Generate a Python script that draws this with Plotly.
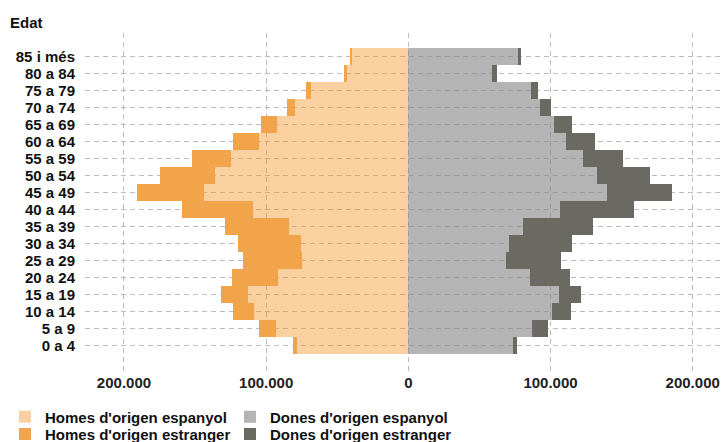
import plotly.graph_objects as go

ages = ["0 a 4", "5 a 9", "10 a 14", "15 a 19", "20 a 24", "25 a 29", "30 a 34",
        "35 a 39", "40 a 44", "45 a 49", "50 a 54", "55 a 59", "60 a 64",
        "65 a 69", "70 a 74", "75 a 79", "80 a 84", "85 i més"]

homes_espanyol = [78000, 93200, 108500, 112900, 91600, 74500, 75500, 83900, 109400,
                  143700, 135900, 124900, 105000, 92600, 79700, 68400, 43800, 39800]
homes_estranger = [3300, 11800, 14600, 18800, 32400, 41700, 44000, 45000, 49700,
                   47100, 38500, 27200, 18100, 11000, 5800, 3500, 1400, 1200]
dones_espanyol = [73400, 87200, 100800, 106000, 85600, 68500, 71000, 80400, 106900,
                  139500, 132700, 123100, 111100, 102500, 92400, 86300, 59100, 76900]
dones_estranger = [3300, 10800, 13600, 15200, 27900, 39100, 44300, 49300, 52000,
                   45900, 37300, 28100, 20200, 12800, 8200, 4900, 3100, 2400]

tick_vals = [-200000, -100000, 0, 100000, 200000]
tick_text = ["200.000", "100.000", "0", "100.000", "200.000"]

FONT = "Liberation Sans, Arial, sans-serif"

fig = go.Figure()
fig.add_trace(go.Bar(y=ages, x=[-v for v in homes_espanyol], orientation="h",
                     name="Homes d'origen espanyol", showlegend=True,
                     marker=dict(color="rgba(243,150,45,0.45)", line=dict(width=0)),
                     legend="legend"))
fig.add_trace(go.Bar(y=ages, x=[-v for v in homes_estranger], orientation="h",
                     name="Homes d'origen estranger", showlegend=True,
                     marker=dict(color="#F2A44A", line=dict(width=0)),
                     legend="legend2"))
fig.add_trace(go.Bar(y=ages, x=dones_espanyol, orientation="h",
                     name="Dones d'origen espanyol", showlegend=True,
                     marker=dict(color="rgba(140,140,140,0.65)", line=dict(width=0)),
                     legend="legend3"))
fig.add_trace(go.Bar(y=ages, x=dones_estranger, orientation="h",
                     name="Dones d'origen estranger", showlegend=True,
                     marker=dict(color="#6A6A63", line=dict(width=0)),
                     legend="legend4"))

legend_common = dict(orientation="v", xanchor="left", yanchor="top",
                     xref="container", yref="container", visible=True,
                     font=dict(family=FONT, size=15, color="#111", weight="bold"),
                     bgcolor="rgba(0,0,0,0)", tracegroupgap=0,
                     traceorder="normal", itemclick=False)

row1_top = 1 - 400.5 / 442
row2_top = 1 - 417.8 / 442
col1_x = 5 / 721
col2_x = 230 / 721

fig.update_layout(
    width=721, height=442, showlegend=True,
    margin=dict(l=85, r=0, t=33, b=70, autoexpand=False),
    paper_bgcolor="white", plot_bgcolor="white",
    barmode="relative", bargap=0,
    font=dict(family=FONT, size=15, color="#111", weight="bold"),
    title=dict(text="Edat", x=10 / 721, xref="container", xanchor="left",
               y=1 - 22.5 / 442, yref="container", yanchor="middle",
               font=dict(family=FONT, size=15, color="#111", weight="bold")),
    xaxis=dict(range=[-227400, 219900], tickvals=tick_vals, ticktext=tick_text,
               showgrid=True, gridcolor="#BBBBBB", griddash="5px,4px", gridwidth=1,
               zeroline=False, showline=False, ticks="", automargin=False,
               tickfont=dict(family=FONT, size=15, color="#222", weight="bold")),
    yaxis=dict(type="category", categoryorder="array", categoryarray=ages,
               tickmode="array", tickvals=ages, ticktext=ages,
               range=[-1.57, 18.4], automargin=False,
               showgrid=True, gridcolor="#BBBBBB", griddash="5px,4px", gridwidth=1,
               zeroline=False, showline=False, ticks="outside", ticklen=6,
               tickcolor="rgba(0,0,0,0)",
               tickfont=dict(family=FONT, size=15, color="#111", weight="bold")),
    legend=dict(x=col1_x, y=row1_top, **legend_common),
    legend2=dict(x=col1_x, y=row2_top, **legend_common),
    legend3=dict(x=col2_x, y=row1_top, **legend_common),
    legend4=dict(x=col2_x, y=row2_top, **legend_common),
)

fig.write_html("out.html", config={"displayModeBar": False})

with open("out.html", "r", encoding="utf-8") as f:
    html = f.read()
html = html.replace("<head>", "<head><style>html,body{margin:0;padding:0;overflow:hidden;}</style>", 1)
with open("out.html", "w", encoding="utf-8") as f:
    f.write(html)
